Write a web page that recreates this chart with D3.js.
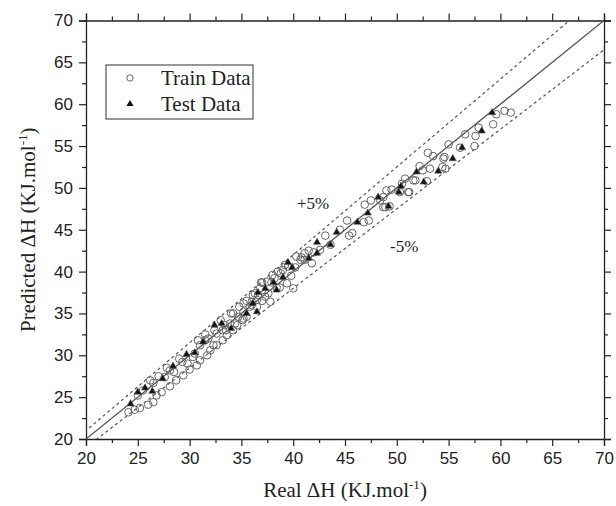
<!DOCTYPE html>
<html>
<head>
<meta charset="utf-8">
<script src="https://cdn.jsdelivr.net/npm/d3@7"></script>
<style>
  body { margin: 0; background: #fff; }
  .tick text { font-family: "Liberation Sans", Arial, sans-serif; font-size: 17px; fill: #222; }
  .title { font-family: "Liberation Serif", "Times New Roman", serif; font-size: 21px; fill: #222; }
  .band { font-family: "Liberation Serif", "Times New Roman", serif; font-size: 17px; fill: #222; }
</style>
</head>
<body>
<svg id="chart" width="616" height="506"></svg>
<script>
// real vs predicted
const trainReal = [24.1, 24.7, 25.2, 26.0, 26.5, 26.8, 27.3, 28.1, 28.7, 29.4, 30.0, 30.7, 31.0, 31.7, 32.0, 32.6, 33.2, 33.6, 34.2, 34.6, 35.1, 35.5, 35.8, 36.5,
  25.0, 26.5, 27.6, 28.1, 29.3, 30.3, 31.0, 31.8, 32.6, 33.2, 33.9, 34.7, 35.2, 36.0, 36.6,
  36.9, 37.9, 39.4, 38.4, 36.1, 37.3, 35.2, 36.0, 34.2, 35.2, 33.4, 32.4, 31.5, 32.3, 34.4,
  37.0, 36.3, 37.6, 38.2, 39.0, 40.7, 40.2, 38.7, 40.0, 36.5, 37.8, 41.1, 40.8, 41.1, 42.6, 43.6,
  43.1, 45.4, 45.7, 45.2, 46.8, 47.3, 46.9, 48.9, 48.4, 48.7, 49.0, 50.3, 51.1, 51.6, 50.8,
  50.5, 51.2, 49.3, 48.7, 52.2, 52.5, 51.8, 52.9, 53.2, 53.5, 54.5, 54.7, 54.4, 54.6, 55.0,
  56.1, 56.6, 57.5, 57.9, 57.6, 59.3, 59.6, 60.4, 61.0, 29.0, 30.5, 27.0, 38.5, 39.5, 42.0,
  30.8, 31.5, 33.0, 34.0, 34.8, 35.5, 36.8, 37.5, 38.0, 38.8, 39.2, 40.3, 41.5, 27.8, 26.2,
  25.5, 33.5, 37.0, 39.8, 29.8, 28.5, 41.8, 44.5, 47.5, 49.5, 53.0];
const trainPred = [23.2, 23.5, 23.7, 24.1, 24.4, 25.2, 25.6, 26.3, 27.0, 27.6, 28.3, 28.8, 29.4, 30.0, 30.6, 31.2, 31.8, 32.4, 33.0, 33.6, 34.2, 34.6, 35.8, 36.6,
  25.2, 26.7, 27.4, 28.2, 29.2, 29.8, 31.2, 32.0, 32.6, 33.0, 33.8, 34.6, 35.2, 36.4, 37.2,
  38.7, 38.7, 38.6, 38.1, 37.2, 37.0, 36.2, 36.0, 35.0, 34.4, 33.6, 33.0, 31.8, 31.2, 33.8,
  38.7, 37.4, 37.4, 39.2, 40.2, 41.4, 40.5, 38.1, 38.0, 35.8, 36.4, 42.2, 41.7, 41.4, 42.6, 43.2,
  44.3, 44.3, 44.6, 46.1, 45.9, 46.1, 48.0, 47.7, 48.5, 48.9, 49.7, 49.5, 49.5, 50.9, 51.1,
  50.5, 49.5, 47.8, 47.7, 52.6, 52.1, 50.9, 50.8, 52.3, 53.8, 53.5, 52.3, 52.5, 53.7, 55.2,
  54.8, 56.4, 55.0, 57.2, 56.2, 57.6, 58.8, 59.2, 59.0, 29.6, 30.2, 27.5, 40.0, 40.6, 42.3,
  31.8, 32.5, 34.2, 35.0, 35.8, 36.5, 38.0, 38.8, 39.6, 39.8, 40.8, 41.8, 42.5, 28.5, 27.0,
  25.8, 33.0, 36.5, 39.5, 29.0, 28.0, 41.0, 45.0, 48.5, 49.8, 54.2];
const testReal = [24.3, 25.0, 25.7, 26.4, 27.4, 28.4, 29.7, 31.3, 32.4, 33.1, 36.1, 35.5, 36.5,
  36.6, 37.3, 38.1, 38.4, 39.0, 39.9, 39.5, 41.5, 42.3, 42.3, 43.6, 44.2, 46.2, 47.2,
  48.2, 49.2, 50.2, 50.4, 51.9, 52.6, 54.0, 55.4, 56.3, 58.2, 30.5, 34.0, 59.2];
const testPred = [24.2, 25.6, 26.1, 25.7, 27.2, 28.7, 30.1, 31.6, 33.6, 33.8, 36.2, 35.0, 35.2,
  37.5, 38.0, 38.7, 37.8, 39.3, 40.5, 41.1, 41.6, 42.2, 43.5, 43.2, 44.7, 45.9, 47.0,
  48.9, 47.8, 49.5, 50.2, 51.9, 50.7, 52.0, 53.5, 54.8, 56.8, 30.3, 33.2, 59.0];
const ticks = [20, 25, 30, 35, 40, 45, 50, 55, 60, 65, 70];
const bandLabels = ["+5%", "-5%"];

const svg = d3.select("#chart");
const margin = {left: 86, right: 12, top: 20.5, bottom: 67};
const W = 616, H = 506;
const x = d3.scaleLinear().domain([20, 70]).range([margin.left, W - margin.right]);
const y = d3.scaleLinear().domain([20, 70]).range([H - margin.bottom, margin.top]);
const minor = d3.range(20, 70.1, 2.5).filter(v => v % 5 !== 0);

svg.append("defs").append("clipPath").attr("id", "plot")
  .append("rect").attr("x", x(20)).attr("y", y(70))
  .attr("width", x(70) - x(20)).attr("height", y(20) - y(70));

// axes
function frame(axisFn, scale, transform, labels) {
  const g = svg.append("g").attr("transform", transform)
    .call(axisFn(scale).tickValues(ticks).tickSize(7).tickPadding(6).tickFormat(labels ? d3.format("d") : ""));
  g.call(a => a.select(".domain").attr("stroke", "#222").attr("stroke-width", 1.3));
  g.selectAll(".tick line").attr("stroke", "#222").attr("stroke-width", 1.2);
  svg.append("g").attr("transform", transform)
    .call(axisFn(scale).tickValues(minor).tickSize(4).tickFormat(""))
    .call(a => a.select(".domain").remove())
    .selectAll(".tick line").attr("stroke", "#222").attr("stroke-width", 1.2);
  return g;
}
frame(d3.axisBottom, x, `translate(0,${y(20)})`, true);
frame(d3.axisTop, x, `translate(0,${y(70)})`, false);
frame(d3.axisLeft, y, `translate(${x(20)},0)`, true);
frame(d3.axisRight, y, `translate(${x(70)},0)`, false);

// reference lines
const lines = svg.append("g").attr("clip-path", "url(#plot)");
lines.append("line").attr("x1", x(20)).attr("y1", y(20)).attr("x2", x(70)).attr("y2", y(70))
  .attr("stroke", "#555").attr("stroke-width", 1.3);
[1.05, 0.95].forEach(k => {
  lines.append("line").attr("x1", x(15)).attr("y1", y(15 * k)).attr("x2", x(75)).attr("y2", y(75 * k))
    .attr("stroke", "#555").attr("stroke-width", 1.2).attr("stroke-dasharray", "3,3");
});

// points
const pts = svg.append("g").attr("clip-path", "url(#plot)");
pts.selectAll("circle.train").data(trainReal).enter().append("circle")
  .attr("class", "train")
  .attr("cx", d => x(d)).attr("cy", (d, i) => y(trainPred[i])).attr("r", 3.8)
  .attr("fill", "none").attr("stroke", "#666").attr("stroke-width", 1);
const tri = d3.symbol().type(d3.symbolTriangle).size(22);
pts.selectAll("path.test").data(testReal).enter().append("path")
  .attr("class", "test")
  .attr("transform", (d, i) => `translate(${x(d)},${y(testPred[i])})`)
  .attr("d", tri).attr("fill", "#111").attr("stroke", "#555").attr("stroke-width", 0.6);

// band labels
svg.append("text").attr("class", "band").attr("x", 297).attr("y", 209).text(bandLabels[0]);
svg.append("text").attr("class", "band").attr("x", 390).attr("y", 252).text(bandLabels[1]);

// legend
const lg = svg.append("g");
lg.append("rect").attr("x", 106).attr("y", 65).attr("width", 147).attr("height", 54)
  .attr("fill", "none").attr("stroke", "#333").attr("stroke-width", 1);
lg.append("circle").attr("cx", 130).attr("cy", 78).attr("r", 3.2).attr("fill", "none").attr("stroke", "#666");
lg.append("path").attr("transform", "translate(130,104)").attr("d", tri).attr("fill", "#111");
lg.append("text").attr("class", "title").attr("x", 161).attr("y", 85).text("Train Data");
lg.append("text").attr("class", "title").attr("x", 161).attr("y", 111).text("Test Data");

// axis titles
const xt = svg.append("text").attr("class", "title").attr("text-anchor", "middle")
  .attr("x", (x(20) + x(70)) / 2).attr("y", 497);
xt.append("tspan").text("Real \u0394H (KJ.mol");
xt.append("tspan").attr("dy", -8).attr("font-size", 13).text("-1");
xt.append("tspan").attr("dy", 8).text(")");

const yt = svg.append("text").attr("class", "title").attr("text-anchor", "middle")
  .attr("transform", `translate(35,${(y(20) + y(70)) / 2}) rotate(-90)`);
yt.append("tspan").text("Predicted \u0394H (KJ.mol");
yt.append("tspan").attr("dy", -8).attr("font-size", 13).text("-1");
yt.append("tspan").attr("dy", 8).text(")");
</script>
</body>
</html>
